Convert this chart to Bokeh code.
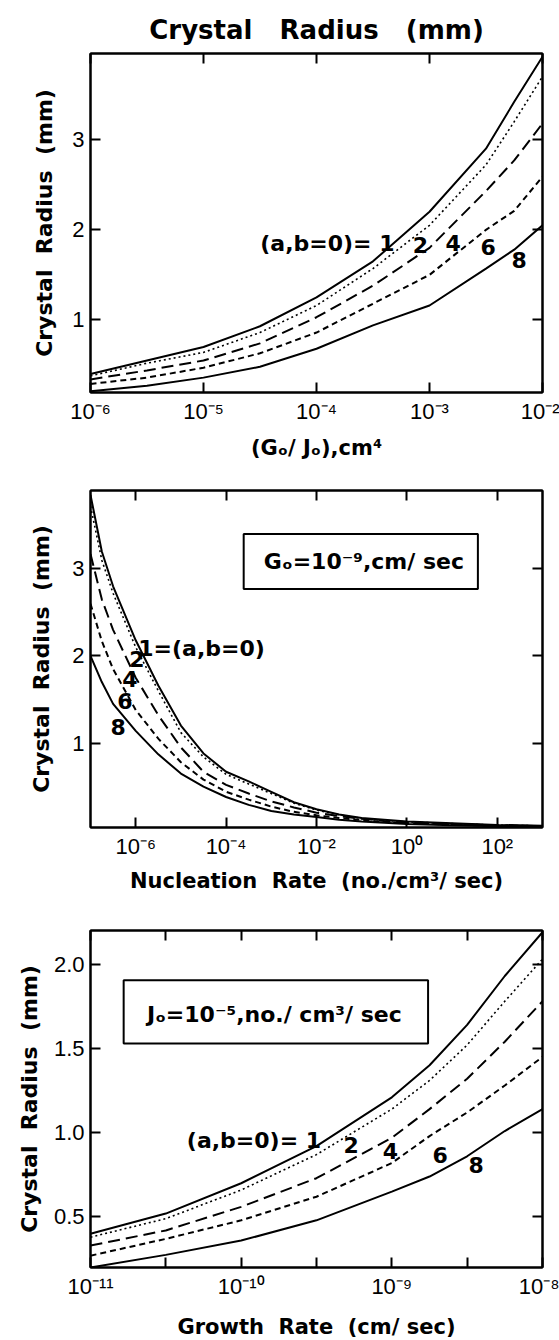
from bokeh.plotting import figure
from bokeh.layouts import column
from bokeh.models import FixedTicker, LogAxis, LinearAxis, BoxAnnotation, Label, ColumnDataSource
from bokeh.embed import file_html
from bokeh.resources import INLINE
from bokeh.core.properties import value

# ---------------- data ----------------
curve_ids = ["1", "2", "4", "6", "8"]

# Panel 1: crystal radius (mm) vs Go/Jo (cm^4)
p1_x = [1e-6, 3.16e-6, 1e-5, 3.16e-5, 1e-4, 3.16e-4, 1e-3, 3.16e-3, 5.62e-3, 1e-2]
p1_r1 = [0.40, 0.55, 0.70, 0.93, 1.25, 1.65, 2.20, 2.90, 3.42, 3.92]
p1_r2 = [0.38, 0.52, 0.64, 0.86, 1.16, 1.57, 2.05, 2.72, 3.20, 3.70]
p1_r4 = [0.34, 0.44, 0.55, 0.74, 1.03, 1.38, 1.80, 2.43, 2.77, 3.18]
p1_r6 = [0.29, 0.36, 0.47, 0.63, 0.86, 1.18, 1.50, 2.00, 2.21, 2.59]
p1_r8 = [0.21, 0.27, 0.36, 0.48, 0.68, 0.94, 1.16, 1.57, 1.78, 2.05]

# Panel 2: crystal radius (mm) vs nucleation rate (no./cm3/sec), Go = 1e-9 cm/sec
p2_x = [1e-7, 1.78e-7, 3.16e-7, 1e-6, 3.16e-6, 1e-5, 3.16e-5, 1e-4, 3.16e-4, 1e-3,
        3.16e-3, 1e-2, 3.16e-2, 1e-1, 3.16e-1, 1, 10, 100, 1000]
p2_r1 = [3.85, 3.20, 2.80, 2.18, 1.66, 1.20, 0.88, 0.67, 0.56, 0.44, 0.32, 0.24, 0.18, 0.14, 0.12, 0.10, 0.08, 0.06, 0.05]
p2_r2 = [3.72, 3.10, 2.72, 2.10, 1.60, 1.12, 0.84, 0.64, 0.53, 0.42, 0.31, 0.23, 0.175, 0.135, 0.11, 0.095, 0.075, 0.058, 0.048]
p2_r4 = [3.17, 2.65, 2.30, 1.75, 1.32, 0.95, 0.67, 0.52, 0.42, 0.33, 0.26, 0.20, 0.16, 0.13, 0.105, 0.085, 0.07, 0.055, 0.045]
p2_r6 = [2.60, 2.17, 1.85, 1.38, 1.05, 0.78, 0.58, 0.44, 0.35, 0.27, 0.21, 0.17, 0.14, 0.115, 0.095, 0.08, 0.062, 0.05, 0.042]
p2_r8 = [2.00, 1.70, 1.45, 1.14, 0.87, 0.65, 0.50, 0.38, 0.29, 0.22, 0.18, 0.15, 0.12, 0.10, 0.085, 0.07, 0.055, 0.045, 0.04]

# Panel 3: crystal radius (mm) vs growth rate (cm/sec), Jo = 1e-5 no./cm3/sec
p3_x = [1e-11, 3.16e-11, 1e-10, 3.16e-10, 1e-9, 1.78e-9, 3.16e-9, 5.62e-9, 1e-8]
p3_r1 = [0.40, 0.52, 0.70, 0.92, 1.21, 1.40, 1.64, 1.93, 2.19]
p3_r2 = [0.38, 0.49, 0.66, 0.87, 1.14, 1.31, 1.52, 1.78, 2.03]
p3_r4 = [0.33, 0.42, 0.56, 0.73, 0.97, 1.14, 1.32, 1.54, 1.78]
p3_r6 = [0.27, 0.37, 0.48, 0.62, 0.82, 0.98, 1.12, 1.28, 1.45]
p3_r8 = [0.20, 0.275, 0.36, 0.48, 0.65, 0.74, 0.86, 1.01, 1.14]

# ticks
p1_xticks = [1e-6, 1e-5, 1e-4, 1e-3, 1e-2]
p1_xtick_labels = ["10⁻⁶", "10⁻⁵", "10⁻⁴", "10⁻³", "10⁻²"]
p1_yticks = [1.0, 2.0, 3.0]
p1_ytick_labels = ["1", "2", "3"]

p2_xticks = [1e-6, 1e-4, 1e-2, 1.0, 100.0]
p2_xtick_labels = ["10⁻⁶", "10⁻⁴", "10⁻²", "10⁰", "10²"]
p2_yticks = [1.0, 2.0, 3.0]
p2_ytick_labels = ["1", "2", "3"]

p3_xticks = [1e-11, 1e-10, 1e-9, 1e-8]
p3_xminor = [3.16e-11, 3.16e-10, 3.16e-9]
p3_xtick_labels = ["10⁻¹¹", "10⁻¹⁰", "10⁻⁹", "10⁻⁸"]
p3_yticks = [0.5, 1.0, 1.5, 2.0]
p3_ytick_labels = ["0.5", "1.0", "1.5", "2.0"]

# texts and annotation anchors (data units)
SP2 = "\u00a0\u00a0"
SP3 = "\u00a0\u00a0\u00a0"
title_text = "Crystal" + SP3 + "Radius" + SP3 + "(mm)"
ylabel = "Crystal" + SP2 + "Radius" + SP2 + "(mm)"
p1_xlabel = "(Gₒ/ Jₒ),cm⁴"
p2_xlabel = "Nucleation" + SP2 + "Rate" + SP2 + "(no./cm³/ sec)"
p3_xlabel = "Growth" + SP2 + "Rate" + SP2 + "(cm/ sec)"

p1_lead = {"text": "(a,b=0)= 1", "x": 4.9e-4, "y": 1.85}
p1_tags_x = [8.3e-4, 1.62e-3, 3.3e-3, 6.2e-3]
p1_tags_y = [1.83, 1.85, 1.81, 1.66]

p2_lead = {"text": "1=(a,b=0)", "x": 1.14e-6, "y": 2.08}
p2_tags_x = [1.07e-6, 7.4e-7, 5.75e-7, 4.07e-7]
p2_tags_y = [1.97, 1.73, 1.48, 1.18]
p2_box = {"left": 2.45e-4, "right": 37.2, "bottom": 2.77, "top": 3.40}
p2_box_text = {"text": "Gₒ=10⁻⁹,cm/ sec", "x": 0.112, "y": 3.08}

p3_lead = {"text": "(a,b=0)= 1", "x": 3.39e-10, "y": 0.955}
p3_tags_x = [5.37e-10, 9.77e-10, 2.09e-9, 3.63e-9]
p3_tags_y = [0.926, 0.89, 0.87, 0.81]
p3_box = {"left": 1.66e-11, "right": 1.74e-9, "bottom": 1.53, "top": 1.905}
p3_box_text = {"text": "Jₒ=10⁻⁵,no./ cm³/ sec", "x": 1.66e-10, "y": 1.70}

# ---------------- styles ----------------
BOLD_FONT = "DejaVu Sans"
TICK_FONT = "Liberation Sans"
dashes = ["solid", "2 3", "12 6", "6 4", "solid"]
widths = [2.0, 1.6, 2.0, 2.0, 2.0]


def style(ax):
    ax.axis_line_color = "black"
    ax.axis_line_width = 2
    ax.major_tick_in = 10
    ax.major_tick_out = 0
    ax.minor_tick_in = 10
    ax.minor_tick_out = 0
    ax.major_tick_line_width = 2
    ax.minor_tick_line_width = 2
    ax.major_tick_line_color = "black"
    ax.minor_tick_line_color = "black"


def make_panel(xs, curves, xr, yr, xticks, xlabels, yticks, ylabels, xminor,
               frame_w, frame_h, b_left, b_right, b_top, b_bottom,
               xlabel, x_label_standoff, y_label_standoff):
    p = figure(x_axis_type="log", x_range=xr, y_range=yr,
               frame_width=frame_w, frame_height=frame_h,
               min_border_left=b_left, min_border_right=b_right,
               min_border_top=b_top, min_border_bottom=b_bottom,
               output_backend="svg", toolbar_location=None,
               background_fill_color="white", border_fill_color="white")
    p.xgrid.visible = False
    p.ygrid.visible = False
    p.outline_line_color = "black"
    p.outline_line_width = 2

    xt = FixedTicker(ticks=xticks, minor_ticks=xminor)
    yt = FixedTicker(ticks=yticks, minor_ticks=[])

    xa = p.xaxis[0]
    xa.ticker = xt
    style(xa)
    xa.major_label_overrides = {float(k): v for k, v in zip(xticks, xlabels)}
    xa.major_label_text_font = TICK_FONT
    xa.major_label_text_font_size = "22px"
    xa.major_label_text_color = "black"
    xa.major_label_standoff = 6
    xa.axis_label = xlabel
    xa.axis_label_text_font = BOLD_FONT
    xa.axis_label_text_font_style = "bold"
    xa.axis_label_text_font_size = "21px"
    xa.axis_label_text_color = "black"
    xa.axis_label_standoff = x_label_standoff

    ya = p.yaxis[0]
    ya.ticker = yt
    style(ya)
    ya.major_label_overrides = {float(k): v for k, v in zip(yticks, ylabels)}
    ya.major_label_text_font = TICK_FONT
    ya.major_label_text_font_size = "22px"
    ya.major_label_text_color = "black"
    ya.major_label_standoff = 6
    ya.axis_label = ylabel
    ya.axis_label_text_font = BOLD_FONT
    ya.axis_label_text_font_style = "bold"
    ya.axis_label_text_font_size = "22px"
    ya.axis_label_text_color = "black"
    ya.axis_label_standoff = y_label_standoff

    top = LogAxis(ticker=xt)
    style(top)
    top.major_label_text_font_size = "2px"
    top.major_label_text_alpha = 0
    top.major_label_standoff = 0
    p.add_layout(top, "above")

    right = LinearAxis(ticker=yt)
    style(right)
    right.major_label_text_font_size = "2px"
    right.major_label_text_alpha = 0
    right.major_label_standoff = 0
    p.add_layout(right, "right")

    for ys, d, w in zip(curves, dashes, widths):
        src = ColumnDataSource(dict(x=xs, y=ys))
        p.line("x", "y", source=src, line_color="black", line_width=w, line_dash=d)
    return p


def add_tags(p, lead, lead_align, tags_x, tags_y):
    p.add_layout(Label(x=lead["x"], y=lead["y"], text=lead["text"],
                       text_font=BOLD_FONT, text_font_style="bold", text_font_size="22px",
                       text_align=lead_align, text_baseline="middle", text_color="black"))
    src = ColumnDataSource(dict(x=tags_x, y=tags_y, t=curve_ids[1:]))
    p.text("x", "y", text="t", source=src, text_font=value(BOLD_FONT),
           text_font_style="bold", text_font_size="22px", text_align="center",
           text_baseline="middle", text_color="black")


def add_box(p, box, txt):
    p.add_layout(BoxAnnotation(left=box["left"], right=box["right"], bottom=box["bottom"],
                               top=box["top"], fill_color=None, fill_alpha=0,
                               line_color="black", line_alpha=1.0, line_width=2))
    p.add_layout(Label(x=txt["x"], y=txt["y"], text=txt["text"], text_font=BOLD_FONT,
                       text_font_style="bold", text_font_size="22px", text_align="center",
                       text_baseline="middle", text_color="black"))


p1 = make_panel(p1_x, [p1_r1, p1_r2, p1_r4, p1_r6, p1_r8], (1e-6, 1e-2), (0.195, 3.956),
                p1_xticks, p1_xtick_labels, p1_yticks, p1_ytick_labels, [],
                452, 339, 86, 21, 53, 73, p1_xlabel, 9, 12)
p1.title.text = title_text
p1.title.align = "center"
p1.title.text_font = BOLD_FONT
p1.title.text_font_style = "bold"
p1.title.text_font_size = "26px"
p1.title.text_color = "black"
p1.title.standoff = 18
add_tags(p1, p1_lead, "right", p1_tags_x, p1_tags_y)

p2 = make_panel(p2_x, [p2_r1, p2_r2, p2_r4, p2_r6, p2_r8], (1e-7, 1e3), (0.03, 3.90),
                p2_xticks, p2_xtick_labels, p2_yticks, p2_ytick_labels, [],
                452, 337, 86, 21, 25, 73, p2_xlabel, 7, 15)
add_tags(p2, p2_lead, "left", p2_tags_x, p2_tags_y)
add_box(p2, p2_box, p2_box_text)

p3 = make_panel(p3_x, [p3_r1, p3_r2, p3_r4, p3_r6, p3_r8], (1e-11, 1e-8), (0.20, 2.20),
                p3_xticks, p3_xtick_labels, p3_yticks, p3_ytick_labels, p3_xminor,
                452, 337, 90, 17, 30, 73, p3_xlabel, 13, 9)
add_tags(p3, p3_lead, "right", p3_tags_x, p3_tags_y)
add_box(p3, p3_box, p3_box_text)

layout = column(p1, p2, p3, spacing=0)
open("out.html", "w").write(file_html(layout, INLINE))
